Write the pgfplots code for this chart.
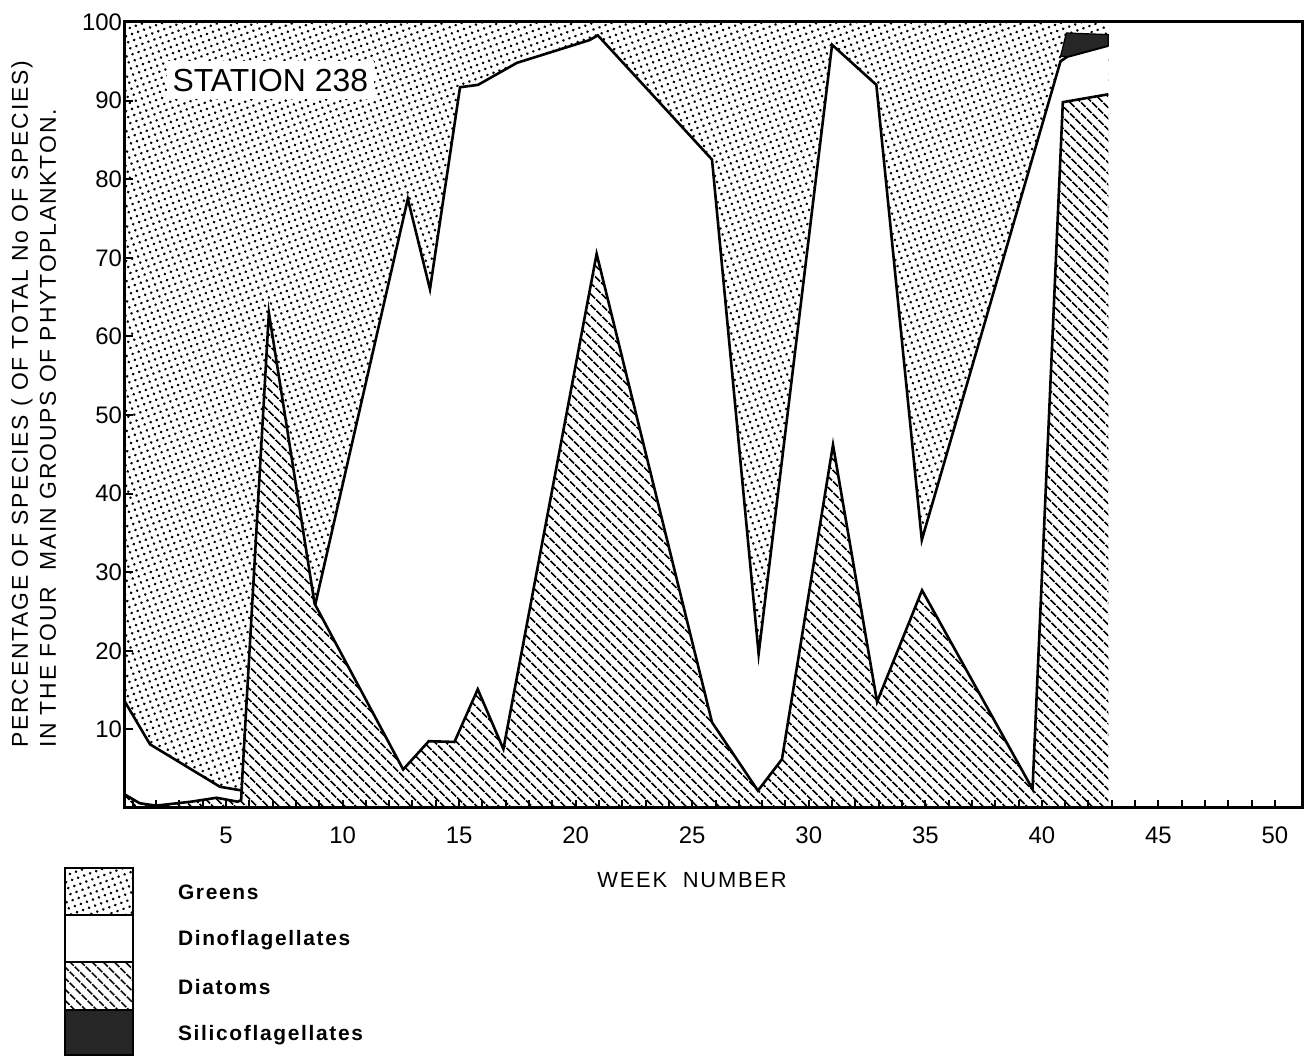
\documentclass[border=0pt]{standalone}
\usepackage{fontspec}
\setmainfont{Liberation Sans}
\newfontfamily\spaced[LetterSpace=8]{Liberation Sans}
\usepackage{pgfplots}
\usepackage{pgfplotstable}
\pgfplotsset{compat=1.18}
\usetikzlibrary{patterns.meta}

\tikzset{
 greens/.style={pattern={Dots[distance=3.2bp,radius=0.72bp,angle=20]},pattern color=black},
 diat/.style={pattern={Lines[angle=-45,distance=3.9bp,line width=1bp]},pattern color=black},
}

% Greens (top layer) extent
\pgfplotstableread{
w g
0.667 100
42.85 100
}\Gtab
% Top of Dinoflagellates (cumulative)
\pgfplotstableread{
w n
0.667 13.5
1.74 8.1
4.74 2.7
5.73 2.2
8.8 25.5
12.8 77.5
13.75 66
15.04 91.7
15.81 92.0
17.48 94.8
20.6 97.7
20.95 98.3
25.85 82.5
27.85 19.6
31.0 97.1
32.9 92.0
34.85 34.1
40.8 95.0
41.1 95.6
42.85 97.0
}\Ntab
% Top of Diatoms
\pgfplotstableread{
w d
0.667 1.7
1.3 0.6
2.0 0.3
3.5 0.8
4.6 1.3
5.5 0.8
5.65 1.0
5.7 4.0
6.84 63.0
8.8 26.0
12.6 4.9
13.7 8.5
14.8 8.4
15.8 15.1
16.9 7.5
20.9 70.5
25.85 10.9
27.82 2.2
28.85 6.2
31.04 46.2
32.93 13.5
34.86 27.7
39.6 2.4
40.9 89.8
42.85 90.8
}\Dtab
% Silicoflagellates (band between Dinoflagellates and Greens)
\pgfplotstableread{
w s
40.8 95.6
41.05 98.6
42.85 98.4
42.85 97.0
41.1 95.6
}\Stab

\begin{document}
\begin{tikzpicture}
\begin{axis}[
 scale only axis, width=588.5bp, height=393bp,
 xmin=0.667, xmax=51.16, ymin=0, ymax=100,
 axis line style={line width=1.5bp},
 axis on top,
 xtick={5,10,...,50}, minor xtick={1,...,50},
 ytick={10,20,...,100},
 tick align=inside,
 xtick pos=left, ytick pos=left,
 major tick length=4bp, minor tick length=4bp,
 tick style={line width=1bp, black},
 tick label style={font=\fontsize{12}{14}\selectfont},
 /pgf/number format/assume math mode=true,
 xticklabel style={yshift=-6bp},
 yticklabel style={xshift=2bp},
]
\addplot[draw=none, greens] table[x=w,y=g] {\Gtab} \closedcycle;
\addplot[draw=none, fill=white] table[x=w,y=n] {\Ntab} \closedcycle;
\addplot[black, line width=1.3bp] table[x=w,y=n] {\Ntab};
\addplot[draw=none, fill=white, postaction={diat}] table[x=w,y=d] {\Dtab} \closedcycle;
\addplot[black, line width=1.3bp] table[x=w,y=d] {\Dtab};
\addplot[draw=black, line width=0.6bp, fill=black!85] table[x=w,y=s] {\Stab} -- cycle;
\node[fill=white, inner xsep=3bp, inner ysep=4bp, font=\fontsize{16}{18}\selectfont] at (axis cs:6.9,92.6) {STATION 238};
\end{axis}

\node[rotate=90, anchor=west, font=\spaced\fontsize{11.5}{13}\selectfont] at ([shift={(-51.5bp,26.5bp)}]current axis.south west) {PERCENTAGE OF SPECIES ( OF TOTAL No OF SPECIES)};
\node[rotate=90, anchor=west, font=\spaced\fontsize{11.5}{13}\selectfont] at ([shift={(-38.5bp,26.5bp)}]current axis.south west) {IN THE FOUR\ \ MAIN GROUPS OF PHYTOPLANKTON.};
\node[font=\spaced\fontsize{11}{13}\selectfont] at ([shift={(283.5bp,-36bp)}]current axis.south west) {WEEK\ \ NUMBER};

% legend
\draw[line width=1bp, fill=white, postaction={greens}] ([shift={(-30bp,-30bp)}]current axis.south west) rectangle ([shift={(4bp,-53.5bp)}]current axis.south west);
\draw[line width=1bp, fill=white] ([shift={(-30bp,-53.5bp)}]current axis.south west) rectangle ([shift={(4bp,-77bp)}]current axis.south west);
\draw[line width=1bp, fill=white, postaction={diat}] ([shift={(-30bp,-77bp)}]current axis.south west) rectangle ([shift={(4bp,-101bp)}]current axis.south west);
\draw[line width=1bp, fill=black!85] ([shift={(-30bp,-101bp)}]current axis.south west) rectangle ([shift={(4bp,-123.5bp)}]current axis.south west);
\node[anchor=west, font=\spaced\bfseries\fontsize{10.5}{12}\selectfont] at ([shift={(23bp,-42bp)}]current axis.south west) {Greens};
\node[anchor=west, font=\spaced\bfseries\fontsize{10.5}{12}\selectfont] at ([shift={(23bp,-66bp)}]current axis.south west) {Dinoflagellates};
\node[anchor=west, font=\spaced\bfseries\fontsize{10.5}{12}\selectfont] at ([shift={(23bp,-89.5bp)}]current axis.south west) {Diatoms};
\node[anchor=west, font=\spaced\bfseries\fontsize{10.5}{12}\selectfont] at ([shift={(23bp,-113.5bp)}]current axis.south west) {Silicoflagellates};

\pgfresetboundingbox
\path[use as bounding box] ([shift={(-62.5bp,-124bp)}]current axis.south west) rectangle ([shift={(1.5bp,11bp)}]current axis.north east);
\end{tikzpicture}
\end{document}
